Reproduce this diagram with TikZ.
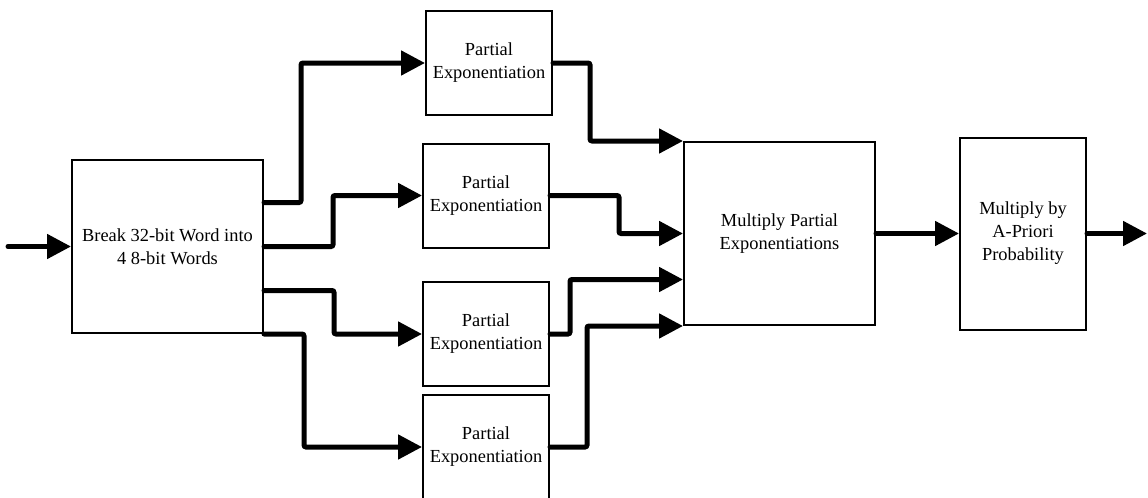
\documentclass[tikz,border=0pt]{standalone}
\usepackage{fontspec}
\setmainfont{Liberation Serif}
\usepackage{tikz}
\usetikzlibrary{arrows.meta,positioning,calc}
\tikzset{
  blk/.style   ={draw,line width=1pt,align=center,inner sep=0pt,
                 font=\fontsize{9.2}{11.5}\selectfont},
  pexp/.style  ={blk,minimum width=63pt,minimum height=52pt},
  arr/.style   ={-{Triangle[length=12pt,width=12pt]},line width=2.5pt,
                 line cap=round,rounded corners=1pt},
}

\begin{document}
\begin{tikzpicture}[x=0.5pt,y=-0.5pt]
\useasboundingbox (0,0) rectangle (1148,498);

% --- splitter ----------------------------------------------------------------
\node[blk,minimum width=95.5pt,minimum height=86.5pt] (brk) at (167.5,246.5)
  {Break 32-bit Word into\\ 4 8-bit Words};
\coordinate (in) at (8,246.5);

% --- partial exponentiations -------------------------------------------------
\node[pexp] (p1) at (489,63)  {Partial\\ Exponentiation};
\node[pexp] (p2) at (486,195.5) {Partial\\ Exponentiation};
\node[pexp] (p3) at (486,334) {Partial\\ Exponentiation};
\node[pexp] (p4) at (486,447) {Partial\\ Exponentiation};

% --- products ----------------------------------------------------------------
\node[blk,minimum width=95.5pt,minimum height=91.5pt] (mp) at (779.5,233.5)
  {Multiply Partial\\ Exponentiations};
\node[blk,minimum width=63pt,minimum height=96pt] (ma) at (1023,233.5)
  {Multiply by\\ A-Priori\\ Probability};
\coordinate (out) at (1147,233.5);

% --- word split --------------------------------------------------------------
\draw[arr] (in) -- (brk.west);
\draw[arr] ([yshift=22pt]brk.east)  -- ++(37,0) |- (p1.west);
\draw[arr] (brk.east)               -- ++(69,0) |- (p2.west);
\draw[arr] ([yshift=-22pt]brk.east) -- ++(70,0) |- (p3.west);
\draw[arr] (brk.south east)         -- ++(40,0) |- (p4.west);

% --- collect partials --------------------------------------------------------
\draw[arr] (p1.east) -- ++(37,0) |- (mp.north west);
\draw[arr] (p2.east) -- ++(69,0) |- (mp.west);
\draw[arr] (p3.east) -- ++(20,0) |- ([yshift=-23pt]mp.west);
\draw[arr] (p4.east) -- ++(37,0) |- (mp.south west);

\draw[arr] (mp) -- (ma);
\draw[arr] (ma.east) -- (out);

\end{tikzpicture}
\end{document}
